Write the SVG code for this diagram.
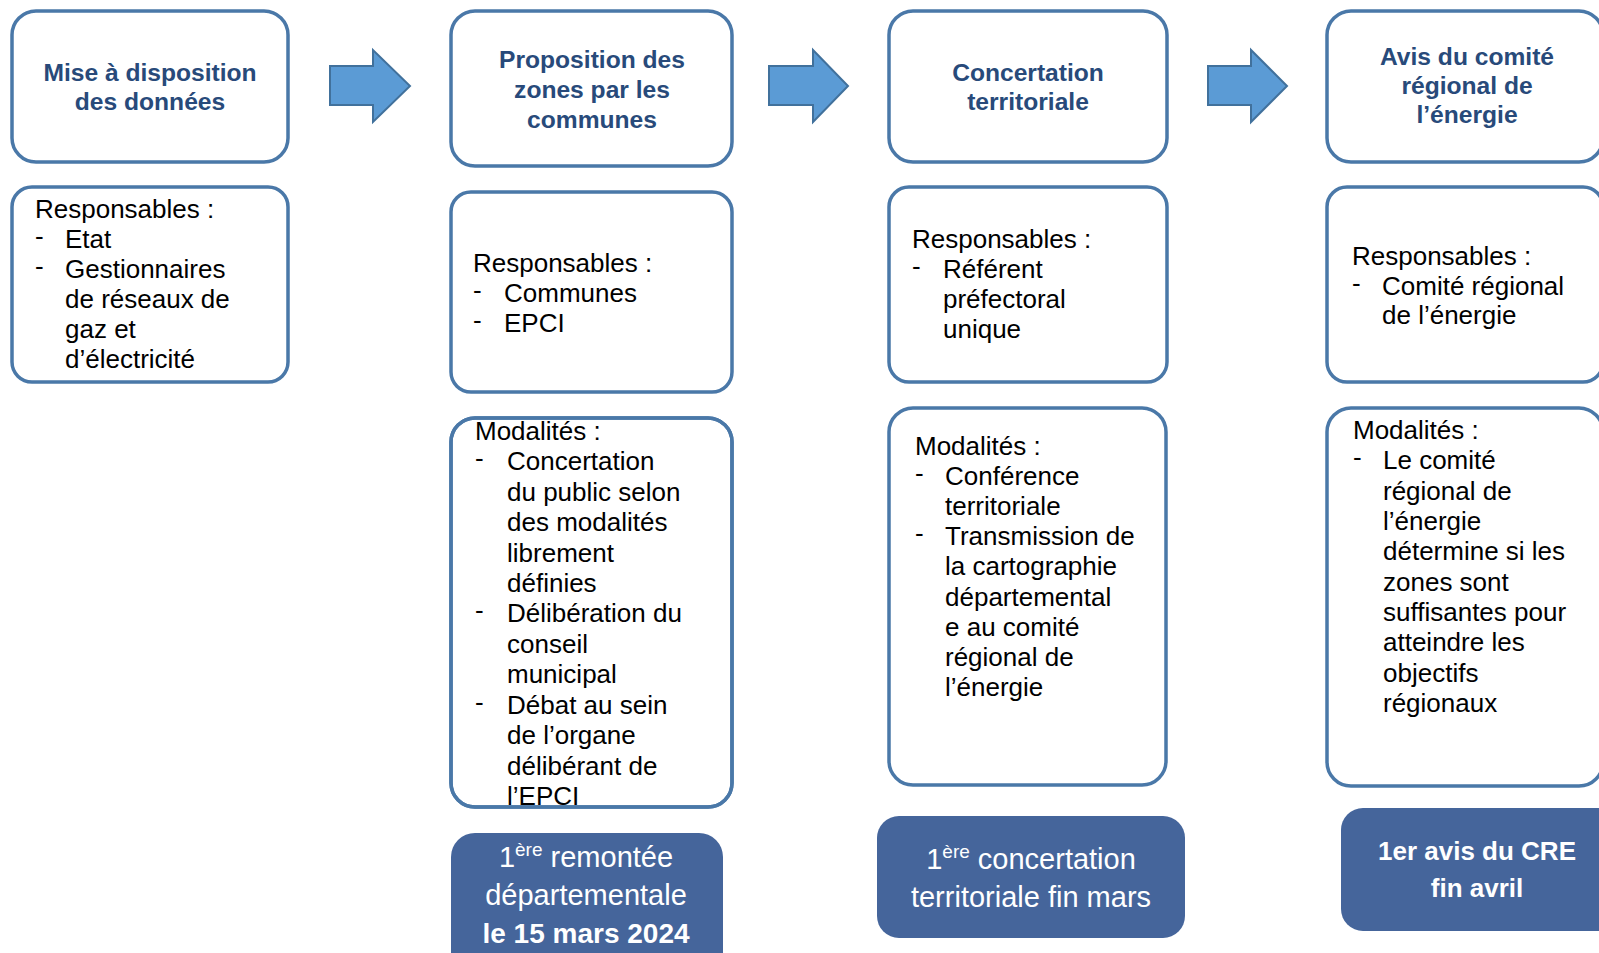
<svg xmlns="http://www.w3.org/2000/svg" width="1599" height="953" viewBox="0 0 1599 953">
<style>
.box{fill:#fff;stroke:#4a78a8;stroke-width:3.5}
.edge{fill:none;stroke:#4a78a8;stroke-width:3.5}
.blue{fill:#45659b}
.title{font-family:"Liberation Sans",Arial,sans-serif;font-weight:bold;font-size:24.6px;fill:#284a7a;text-anchor:middle}
.body{font-family:"Liberation Sans",Arial,sans-serif;font-size:26px;fill:#000}
.wt{font-family:"Liberation Sans",Arial,sans-serif;font-size:29px;fill:#fff;text-anchor:middle}
.wb{font-weight:bold}
.arrow{fill:#5b9bd5;stroke:#41719c;stroke-width:2}
</style>
<rect width="1599" height="953" fill="#fff"/>
<g id="connectors">
<polygon class="arrow" points="330,66 373,66 373,50 410,86 373,122 373,105 330,105"/>
<polygon class="arrow" points="769,66 813,66 813,50 848,86 813,122 813,105 769,105"/>
<polygon class="arrow" points="1208,66 1251,66 1251,50 1287,86 1251,122 1251,105 1208,105"/>
</g>
<g id="step1">
<rect class="box" x="12" y="11" width="276" height="151" rx="24"/>
<text class="title" x="150" y="81">Mise à disposition</text>
<text class="title" x="150" y="110">des données</text>
</g>
<g id="resp1">
<rect class="box" x="12" y="187" width="276" height="195" rx="20"/>
<text class="body" x="35" y="218">Responsables :</text>
<text class="body" x="35" y="245">-</text><text class="body" x="65" y="248">Etat</text>
<text class="body" x="35" y="275">-</text><text class="body" x="65" y="278">Gestionnaires</text>
<text class="body" x="65" y="308">de réseaux de</text>
<text class="body" x="65" y="338">gaz et</text>
<text class="body" x="65" y="368">d’électricité</text>
</g>
<g id="step2">
<rect class="box" x="451" y="11" width="281" height="155" rx="24"/>
<text class="title" x="592" y="68">Proposition des</text>
<text class="title" x="592" y="98">zones par les</text>
<text class="title" x="592" y="128">communes</text>
</g>
<g id="resp2">
<rect class="box" x="451" y="192" width="281" height="200" rx="20"/>
<text class="body" x="473" y="272">Responsables :</text>
<text class="body" x="473" y="299">-</text><text class="body" x="504" y="302">Communes</text>
<text class="body" x="473" y="329">-</text><text class="body" x="504" y="332">EPCI</text>
</g>
<g id="mod2">
<rect class="box" x="451" y="418" width="281" height="389" rx="24"/>
<text class="body" x="475" y="440">Modalités :</text>
<text class="body" x="475" y="467">-</text><text class="body" x="507" y="470">Concertation</text>
<text class="body" x="507" y="501">du public selon</text>
<text class="body" x="507" y="531">des modalités</text>
<text class="body" x="507" y="562">librement</text>
<text class="body" x="507" y="592">définies</text>
<text class="body" x="475" y="619">-</text><text class="body" x="507" y="622">Délibération du</text>
<text class="body" x="507" y="653">conseil</text>
<text class="body" x="507" y="683">municipal</text>
<text class="body" x="475" y="711">-</text><text class="body" x="507" y="714">Débat au sein</text>
<text class="body" x="507" y="744">de l’organe</text>
<text class="body" x="507" y="775">délibérant de</text>
<text class="body" x="507" y="805">l’EPCI</text>
<rect class="edge" x="451" y="418" width="281" height="389" rx="24"/>
</g>
<g id="date1">
<rect class="blue" x="451" y="833" width="272" height="150" rx="24"/>
<text class="wt" x="586" y="867">1<tspan style="font-size:19px" dy="-11">ère</tspan><tspan dy="11"> remontée</tspan></text>
<text class="wt" x="586" y="905">départementale</text>
<text class="wt wb" x="586" y="943" style="font-size:28px">le 15 mars 2024</text>
</g>
<g id="step3">
<rect class="box" x="889" y="11" width="278" height="151" rx="24"/>
<text class="title" x="1028" y="81">Concertation</text>
<text class="title" x="1028" y="110">territoriale</text>
</g>
<g id="resp3">
<rect class="box" x="889" y="187" width="278" height="195" rx="20"/>
<text class="body" x="912" y="248">Responsables :</text>
<text class="body" x="912" y="275">-</text><text class="body" x="943" y="278">Référent</text>
<text class="body" x="943" y="308">préfectoral</text>
<text class="body" x="943" y="338">unique</text>
</g>
<g id="mod3">
<rect class="box" x="889" y="408" width="277" height="377" rx="24"/>
<text class="body" x="915" y="455">Modalités :</text>
<text class="body" x="915" y="482">-</text><text class="body" x="945" y="485">Conférence</text>
<text class="body" x="945" y="515">territoriale</text>
<text class="body" x="915" y="542">-</text><text class="body" x="945" y="545">Transmission de</text>
<text class="body" x="945" y="575">la cartographie</text>
<text class="body" x="945" y="606">départemental</text>
<text class="body" x="945" y="636">e au comité</text>
<text class="body" x="945" y="666">régional de</text>
<text class="body" x="945" y="696">l’énergie</text>
</g>
<g id="date2">
<rect class="blue" x="877" y="816" width="308" height="122" rx="22"/>
<text class="wt" x="1031" y="869">1<tspan style="font-size:19px" dy="-11">ère</tspan><tspan dy="11"> concertation</tspan></text>
<text class="wt" x="1031" y="907">territoriale fin mars</text>
</g>
<g id="step4">
<rect class="box" x="1327" y="11" width="276" height="151" rx="24"/>
<text class="title" x="1467" y="65">Avis du comité</text>
<text class="title" x="1467" y="94">régional de</text>
<text class="title" x="1467" y="123">l’énergie</text>
</g>
<g id="resp4">
<rect class="box" x="1327" y="187" width="276" height="195" rx="20"/>
<text class="body" x="1352" y="265">Responsables :</text>
<text class="body" x="1352" y="292">-</text><text class="body" x="1382" y="295">Comité régional</text>
<text class="body" x="1382" y="324">de l’énergie</text>
</g>
<g id="mod4">
<rect class="box" x="1327" y="408" width="276" height="378" rx="24"/>
<text class="body" x="1353" y="439">Modalités :</text>
<text class="body" x="1353" y="466">-</text><text class="body" x="1383" y="469">Le comité</text>
<text class="body" x="1383" y="500">régional de</text>
<text class="body" x="1383" y="530">l’énergie</text>
<text class="body" x="1383" y="560">détermine si les</text>
<text class="body" x="1383" y="591">zones sont</text>
<text class="body" x="1383" y="621">suffisantes pour</text>
<text class="body" x="1383" y="651">atteindre les</text>
<text class="body" x="1383" y="682">objectifs</text>
<text class="body" x="1383" y="712">régionaux</text>
</g>
<g id="date3">
<rect class="blue" x="1341" y="808" width="280" height="123" rx="22"/>
<text class="wt wb" x="1477" y="860" style="font-size:26px">1er avis du CRE</text>
<text class="wt wb" x="1477" y="897" style="font-size:26px">fin avril</text>
</g>
</svg>
